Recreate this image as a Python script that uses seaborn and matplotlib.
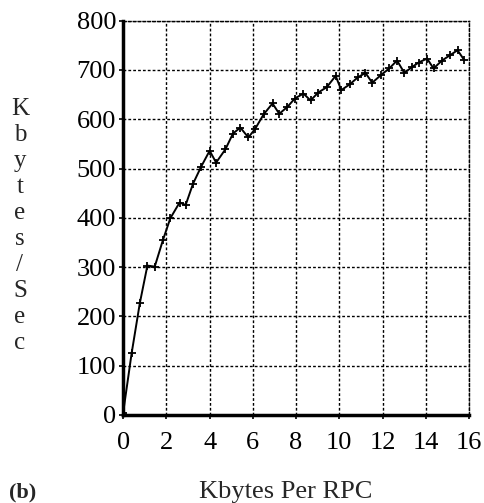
"""Throughput vs RPC size, panel (b)."""

import matplotlib

matplotlib.use("Agg")
import matplotlib.pyplot as plt
import pandas as pd
import seaborn as sns

sns.set_theme(style="ticks")
plt.rcParams["font.family"] = ["Liberation Serif", "DejaVu Serif"]

kbytes_per_rpc = [
    0.0, 0.39, 0.77, 1.12, 1.46, 1.84, 2.18, 2.61, 2.89, 3.23, 3.61, 4.0,
    4.30, 4.73, 5.08, 5.42, 5.79, 6.1, 6.5, 6.91, 7.22, 7.6, 7.94, 8.34,
    8.67, 9.02, 9.42, 9.83, 10.09, 10.49, 10.86, 11.21, 11.52, 11.94,
    12.31, 12.67, 13.01, 13.37, 13.67, 14.06, 14.36, 14.75, 15.13, 15.47,
    15.78,
]
kbytes_per_sec = [
    5, 125, 227, 303, 301, 355, 399, 431, 426, 469, 504, 536,
    512, 539, 571, 583, 563, 580, 610, 632, 611, 625, 642, 652,
    638, 654, 665, 688, 659, 671, 685, 694, 674, 690,
    703, 719, 694, 706, 715, 723, 703, 719, 730, 740,
    720,
]
x_ticks = [0, 2, 4, 6, 8, 10, 12, 14, 16]
y_ticks = [0, 100, 200, 300, 400, 500, 600, 700, 800]
y_label = "Kbytes/Sec"
x_label = "Kbytes Per RPC"
panel_tag = "(b)"

df = pd.DataFrame({"x": kbytes_per_rpc, "y": kbytes_per_sec})

fig = plt.figure(figsize=(4.85, 5.03), dpi=100)
ax = fig.add_axes([0.254, 0.175, 0.713, 0.784])

sns.lineplot(
    data=df,
    x="x",
    y="y",
    ax=ax,
    color="black",
    linewidth=1.4,
    marker="+",
    markersize=6,
    markeredgewidth=1.3,
    markeredgecolor="black",
    sort=False,
)

ax.set_xlim(0, 16)
ax.set_ylim(0, 800)
ax.set_xticks(x_ticks)
ax.set_yticks(y_ticks)
ax.set_xticklabels([str(t) for t in x_ticks])
ax.set_yticklabels([str(t) for t in y_ticks])
ax.tick_params(axis="both", labelsize=19, colors="black", length=3, width=1.2)
ax.tick_params(axis="x", pad=9)
ax.tick_params(axis="y", pad=2)

ax.grid(True, color="black", linestyle=(0, (2, 1.5)), linewidth=1.0)
ax.set_axisbelow(True)
for side in ("left", "bottom"):
    ax.spines[side].set_linewidth(2.5)
    ax.spines[side].set_color("black")
for side in ("top", "right"):
    ax.spines[side].set_linestyle((0, (2, 1.5)))
    ax.spines[side].set_linewidth(1.0)
    ax.spines[side].set_color("black")

ax.set_xlabel("")
ax.set_ylabel("")

fig.text(20 / 485, 1 - 226 / 503, "\n".join(y_label), ha="center", va="center",
         fontsize=18, linespacing=1.24)
fig.text(286 / 485, 1 - 492 / 503, x_label, ha="center", va="center", fontsize=19)
fig.text(23 / 485, 1 - 492 / 503, panel_tag, ha="center", va="center",
         fontsize=16, fontweight="bold")

fig.savefig("out.png", dpi=100)
